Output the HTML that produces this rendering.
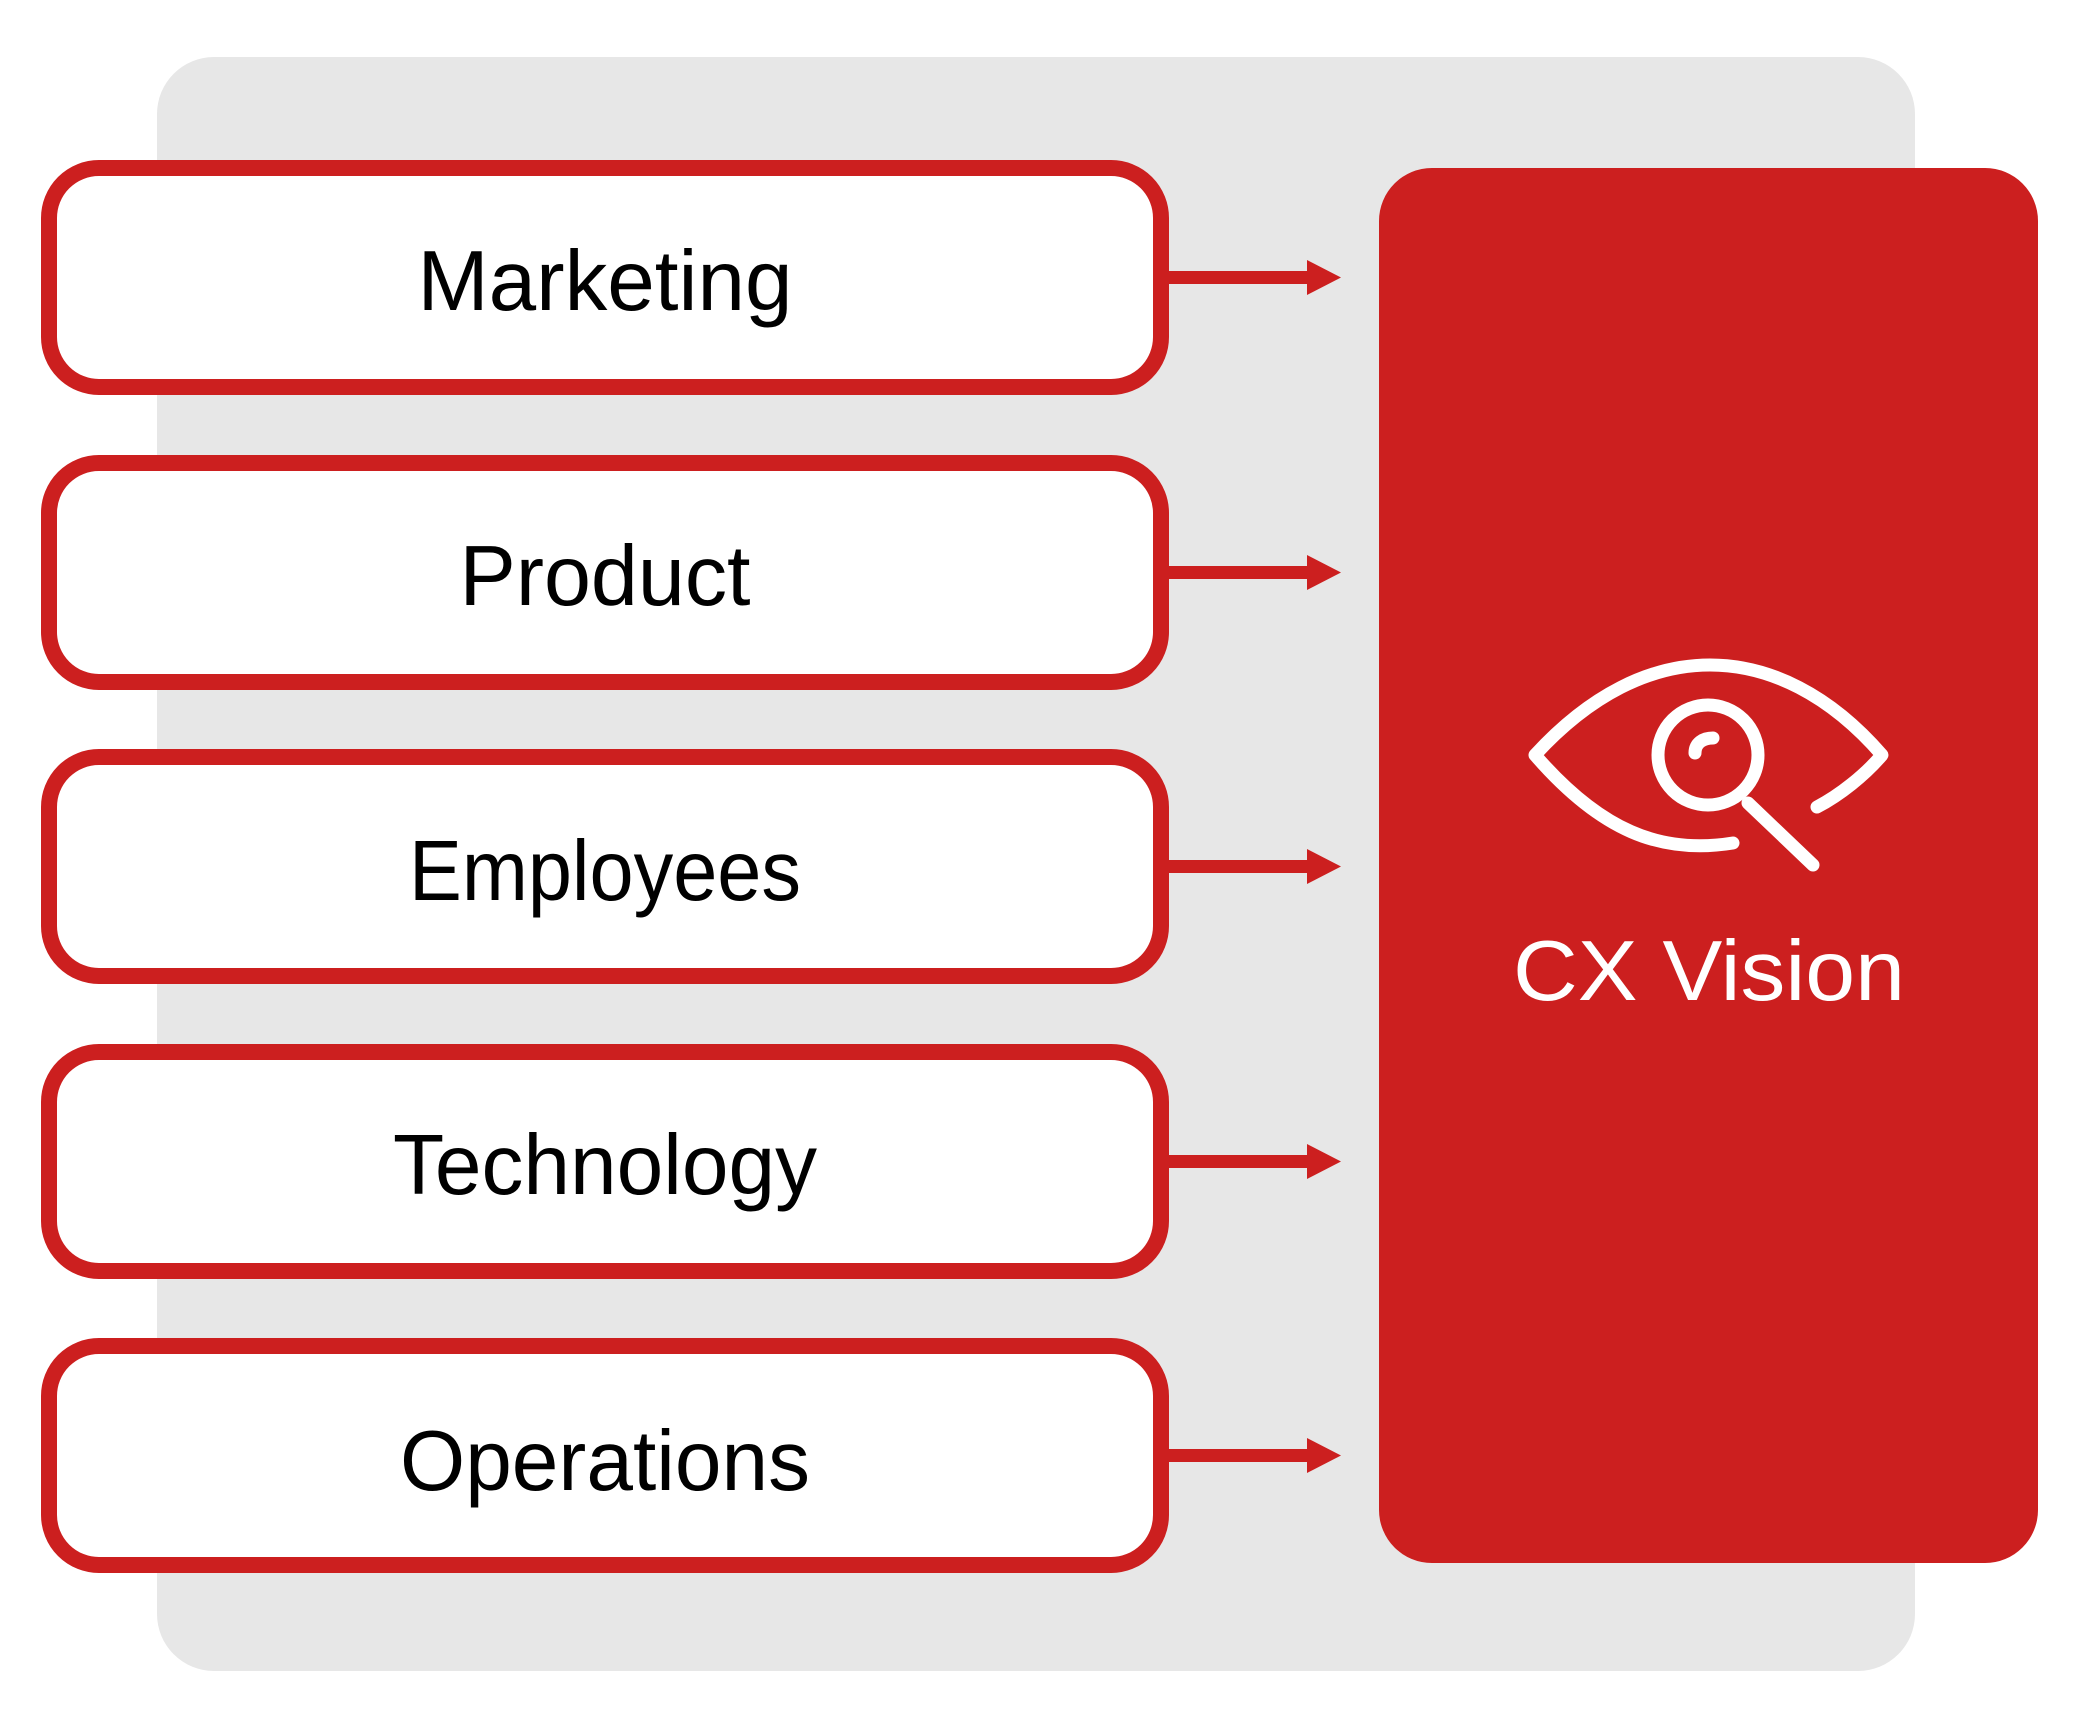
<!DOCTYPE html>
<html><head><meta charset="utf-8"><style>html,body{margin:0;padding:0;background:#fff}svg{display:block}</style></head>
<body>
<svg width="2084" height="1734" viewBox="0 0 2084 1734" xmlns="http://www.w3.org/2000/svg">
<rect x="157" y="57" width="1758" height="1614" rx="57" fill="#e7e7e7"/>
<g fill="#fff" stroke="#cc1f1f" stroke-width="16">
<rect x="49" y="168" width="1112" height="219" rx="50"/>
<rect x="49" y="463" width="1112" height="219" rx="50"/>
<rect x="49" y="757" width="1112" height="219" rx="50"/>
<rect x="49" y="1052" width="1112" height="219" rx="50"/>
<rect x="49" y="1346" width="1112" height="219" rx="50"/>
</g>
<g fill="#cc1f1f">
<rect x="1169" y="271" width="140" height="13"/><polygon points="1307,260 1341,277.5 1307,295"/>
<rect x="1169" y="566" width="140" height="13"/><polygon points="1307,555 1341,572.5 1307,590"/>
<rect x="1169" y="860" width="140" height="13"/><polygon points="1307,849 1341,866.5 1307,884"/>
<rect x="1169" y="1155" width="140" height="13"/><polygon points="1307,1144 1341,1161.5 1307,1179"/>
<rect x="1169" y="1449" width="140" height="13"/><polygon points="1307,1438 1341,1455.5 1307,1473"/>
<rect x="1379" y="168" width="659" height="1395" rx="53"/>
</g>
<g font-family="Liberation Sans, sans-serif" font-size="85" text-anchor="middle" fill="#000">
<text x="605" y="310" textLength="375" lengthAdjust="spacingAndGlyphs">Marketing</text>
<text x="605" y="605" textLength="291" lengthAdjust="spacingAndGlyphs">Product</text>
<text x="605" y="900" textLength="392" lengthAdjust="spacingAndGlyphs">Employees</text>
<text x="605" y="1194" textLength="424" lengthAdjust="spacingAndGlyphs">Technology</text>
<text x="605" y="1490" textLength="410" lengthAdjust="spacingAndGlyphs">Operations</text>
<text x="1709" y="1000" textLength="392" lengthAdjust="spacingAndGlyphs" fill="#fff">CX Vision</text>
</g>
<g fill="none" stroke="#fff" stroke-width="13" stroke-linecap="round" stroke-linejoin="round">
<path d="M1733,843 C1660,855 1600,830 1535,755 C1590,695 1650,665 1710,665 C1770,665 1830,695 1882,755 C1865,775 1840,795 1817,807"/>
<circle cx="1708" cy="755" r="50"/>
<path d="M1695,753 C1695,743 1703,738 1713,738"/>
<line x1="1748" y1="803" x2="1813" y2="865"/>
</g>
</svg>
</body></html>
